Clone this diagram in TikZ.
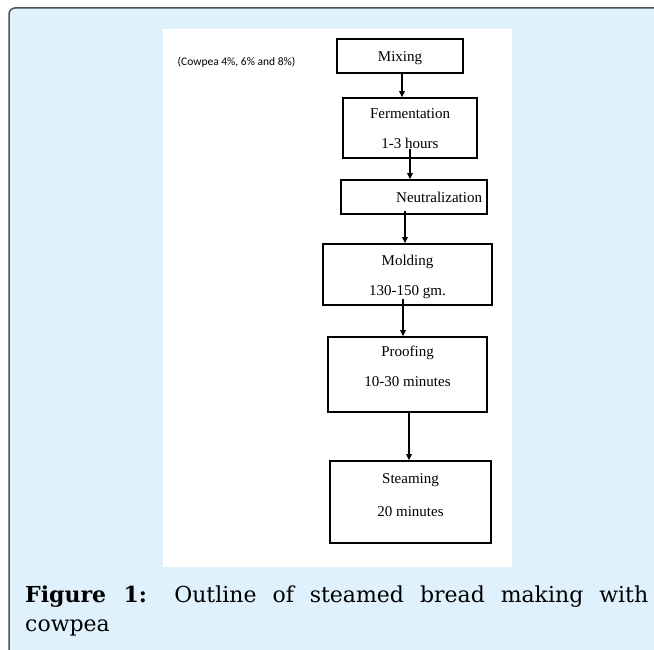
\documentclass[tikz,border=0pt]{standalone}
\usepackage{fontspec}
\setmainfont{Liberation Serif}
\newfontfamily\notefont{Carlito}
\newfontfamily\capfont{DejaVu Serif}
\usetikzlibrary{positioning,arrows.meta}
\definecolor{paneblue}{RGB}{223,241,252}
\definecolor{framegray}{RGB}{80,80,80}

\begin{document}
\begin{tikzpicture}[x=1pt,y=-1pt,
        stage/.style={draw,line width=1.6pt,align=center,inner xsep=0pt,inner ysep=0pt,
                      font=\fontsize{15}{30}\selectfont},
        arr/.style={-{Triangle[length=6pt,width=5.5pt]},line width=1.5pt}]
    \useasboundingbox (0,0) rectangle (654,650);
    % panel and frame
    \fill[paneblue] (9,650) [rounded corners=6pt] -- (9,8) [sharp corners] -- (654,8) -- (654,650) -- cycle;
    \draw[framegray,line width=1.5pt] (9,650) [rounded corners=6pt] -- (9,8) [sharp corners] -- (654,8);
    \fill[white] (163,29) rectangle (512,567);

    \node[font=\notefont\fontsize{11.5}{13}\selectfont] (note) at (236.5,62) {(Cowpea 4\%, 6\% and 8\%)};

    \node[stage,minimum width=126pt,text height=22.7pt,text depth=11.3pt] (mixing) at (400,56) {Mixing};
    \node[stage,minimum width=134pt,text height=51pt,text depth=9pt] (ferment) at (410,128)
        {Fermentation\\1-3 hours};
    \node[stage,minimum width=146pt,text width=136pt,align=right,text height=22.7pt,text depth=11.3pt]
        (neutral) at (414,197) {Neutralization};
    \node[stage,minimum width=169pt,text height=51pt,text depth=10pt] (molding) at (407.5,274.5)
        {Molding\\130-150 gm.};
    \node[stage,minimum width=159pt,text height=49.7pt,text depth=25.3pt] (proofing) at (407.5,374.5)
        {Proofing\\10-30 minutes};
    \node[stage,minimum width=161pt,text height=55.7pt,text depth=26.3pt] (steaming) at (410.5,502)
        {Steaming\\[3.4pt]20 minutes};

    \draw[arr] ([xshift=2pt]mixing.south) -- ([xshift=-8pt]ferment.north);
    \draw[arr] ([yshift=10pt]ferment.south) -- ([xshift=-4pt]neutral.north);
    \draw[arr] ([xshift=-9pt,yshift=4pt]neutral.south) -- ([xshift=-2.5pt]molding.north);
    \draw[arr] ([xshift=-4.5pt,yshift=7pt]molding.south) -- ([xshift=-4.5pt]proofing.north);
    \draw[arr] ([xshift=1.5pt]proofing.south) -- ([xshift=-1.5pt]steaming.north);

    \node[anchor=base west,text width=623pt,align=justify,inner sep=0pt,
          font=\capfont\fontsize{22}{29}\selectfont] (caption) at (25,602)
        {\textbf{Figure 1:} Outline of steamed bread making with \mbox{cowpea}};
\end{tikzpicture}
\end{document}
